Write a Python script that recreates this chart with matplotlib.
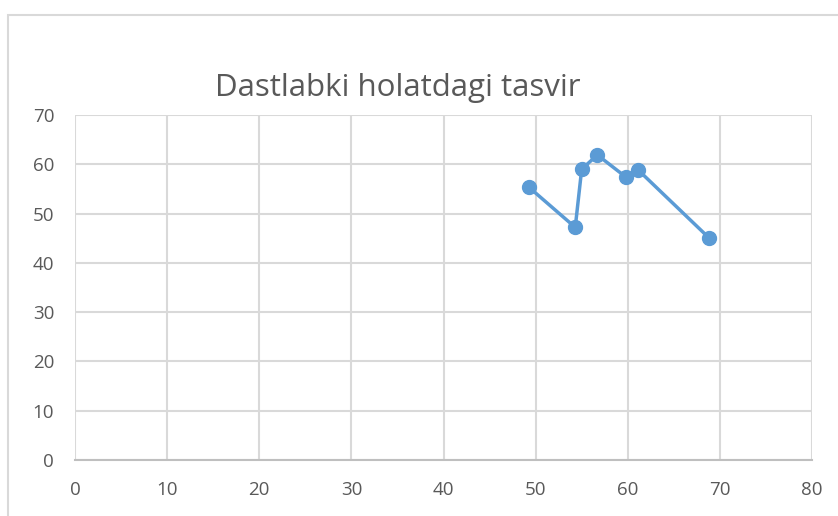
import matplotlib
matplotlib.use("Agg")
from matplotlib import pyplot as plt
from matplotlib.patches import Rectangle

# values
x_vals = [49.3, 54.3, 55.0, 56.7, 59.8, 61.1, 68.8]
y_vals = [55.3, 47.2, 59.0, 61.9, 57.4, 58.9, 45.1]
x_ticks = [0, 10, 20, 30, 40, 50, 60, 70, 80]
y_ticks = [0, 10, 20, 30, 40, 50, 60, 70]
title = "Dastlabki holatdagi tasvir"

plt.rcParams['font.family'] = ['Open Sans', 'DejaVu Sans']

fig = plt.figure(figsize=(8.38, 5.16), dpi=100)
fig.patch.set_facecolor("white")

# outer chart frame (cropped screenshot, only left/top edge visible)
fig.add_artist(Rectangle((8 / 838, -0.1), 1.2, 1 - 15 / 516 + 0.1,
                         transform=fig.transFigure, fill=False,
                         edgecolor="#d9d9d9", linewidth=1.5))

ax = fig.add_axes([75 / 838, 1 - 460 / 516, (812 - 75) / 838, (460 - 115) / 516])
ax.plot(x_vals, y_vals, color="#5b9bd5", linewidth=2.5, marker="o",
        markersize=10, clip_on=False, zorder=3)

ax.set_xlim(0, 80)
ax.set_ylim(0, 70)
ax.set_xticks(x_ticks)
ax.set_yticks(y_ticks)
ax.grid(True, color="#d9d9d9", linewidth=1.5)
ax.set_axisbelow(True)
for s in ["top", "right", "left"]:
    ax.spines[s].set_visible(False)
ax.spines["bottom"].set_color("#bfbfbf")
ax.spines["bottom"].set_linewidth(1.5)
ax.tick_params(length=0, labelsize=13.5, labelcolor="#595959")
ax.tick_params(axis="x", pad=15)
ax.tick_params(axis="y", pad=15)

fig.text(398 / 838, 1 - 88 / 516, title, ha="center", va="center",
         fontsize=22.5, color="#595959")

fig.savefig("out.png", dpi=100)
